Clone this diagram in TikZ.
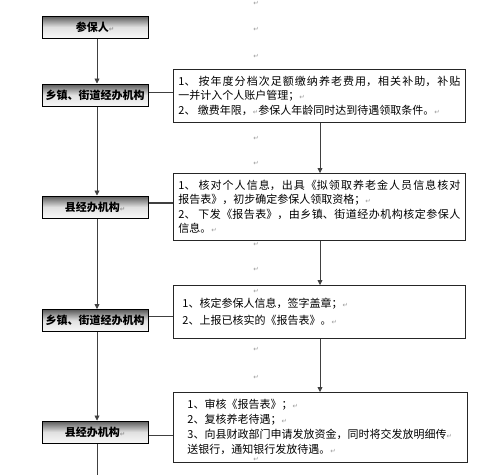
\documentclass[tikz,border=0pt]{standalone}
\usepackage{fontspec}
\usetikzlibrary{arrows.meta}
\newfontfamily\cjk{Noto Sans CJK SC}
\newfontfamily\symf{DejaVu Sans}
\newcommand\retm{\hbox{\symf\fontsize{6.5}{6.5}\selectfont\textcolor{black!40}{↵}}}
\XeTeXlinebreaklocale "zh"
\XeTeXlinebreakskip=0pt plus 2pt
\begin{document}
\begin{tikzpicture}[x=1pt,y=-1pt,
  lbox/.style={draw=black, line width=1pt, minimum width=106pt, minimum height=22pt,
    inner sep=0pt, top color=black!65, bottom color=black!3, middle color=black!12,
    font=\cjk\bfseries\fontsize{11}{13}\selectfont},
  rbox/.style={draw=black!85, line width=0.8pt, fill=white, anchor=north west,
    align=justify, font=\cjk\fontsize{11}{14.5}\selectfont},
  conn/.style={draw=black!75, line width=0.8pt},
  arr/.style={conn, -{Triangle[length=5pt,width=5pt]}},
  mk/.style={inner sep=0pt, font=\symf\fontsize{6.5}{6.5}\selectfont, text=black!40}]
\useasboundingbox (0,0) rectangle (500,474);

% paragraph marks column
\foreach \i/\yy in {1/3,2/29,3/56,4/138,5/163,6/244,7/269,8/291,9/349,10/377,11/459}
  \node[mk] (m\i) at (256,\yy) {↵};

% left column
\node[lbox] (p)  at (95,27)    {参保人\retm};
\node[lbox] (x1) at (95,95)    {乡镇、街道经办机构};
\node[lbox] (c1) at (95,207)   {县经办机构\retm};
\node[lbox] (x2) at (95,320.5) {乡镇、街道经办机构};
\node[lbox] (c2) at (95,432)   {县经办机构\retm};

\coordinate (vx) at (97,0);
\coordinate (bot) at (97,480);
\draw[arr] (vx |- p.south)  -- (vx |- x1.north);
\draw[arr] (vx |- x1.south) -- (vx |- c1.north);
\draw[arr] (vx |- c1.south) -- (vx |- x2.north);
\draw[arr] (vx |- x2.south) -- (vx |- c2.north);
\draw[conn] (vx |- c2.south) -- (bot);

% right column
\node[rbox, text width=282pt, inner xsep=5pt, inner ysep=0pt, minimum height=53pt] (r1) at (173,69)
 {1、 按年度分档次足额缴纳养老费用，相关补助，补贴\linebreak
  一并计入个人账户管理；\retm\\
  2、 缴费年限，\retm 参保人年龄同时达到待遇领取条件。\retm};
\node[rbox, text width=282pt, inner xsep=5pt, inner ysep=0pt, minimum height=67pt] (r2) at (173,173)
 {1、 核对个人信息，出具《拟领取养老金人员信息核对\linebreak
  报告表》，初步确定参保人领取资格；\retm\\
  2、 下发《报告表》，由乡镇、街道经办机构核定参保人\linebreak
  信息。\retm};
\node[rbox, fill=none, text width=274pt, inner xsep=9pt, inner ysep=0pt, minimum height=53pt,
  font=\cjk\fontsize{11}{17}\selectfont] (r3) at (173,285)
 {1、核定参保人信息，签字盖章；\retm\\
  2、上报已核实的《报告表》。\retm};
\node[rbox, fill=none, text width=266pt, inner xsep=14pt, inner ysep=7pt,
  font=\cjk\fontsize{11}{15}\selectfont] (r4) at (173,392)
 {1、审核《报告表》；\retm\\
  2、复核养老待遇；\retm\\
  3、向县财政部门申请发放资金，同时将交发放明细传\retm\\
  送银行，通知银行发放待遇。\retm\par\vspace*{30pt}};

\coordinate (vr) at (320,0);
\draw[arr] (vr |- r1.south) -- (vr |- r2.north);
\draw[arr] (vr |- r2.south) -- (vr |- r3.north);
\draw[arr] (vr |- r3.south) -- (vr |- r4.north);

% horizontal connectors
\draw[conn] (x1.east |- 0,92)  -- (r1.west |- 0,92);
\draw[conn, line width=1.8pt] (c1.east |- 0,203) -- (r2.west |- 0,203);
\draw[conn] (x2.east |- 0,316) -- (r3.west |- 0,316);
\draw[conn] (c2.east |- 0,435) -- (r4.west |- 0,435);
\end{tikzpicture}
\end{document}
